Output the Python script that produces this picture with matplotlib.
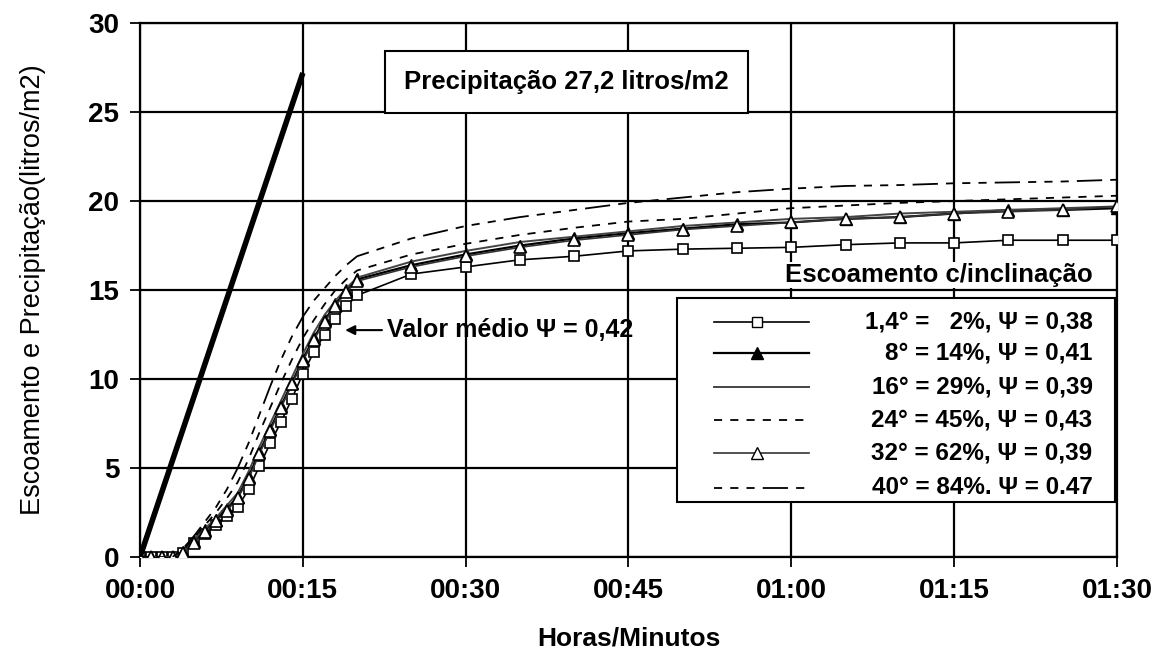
import matplotlib
matplotlib.use("Agg")
import matplotlib.pyplot as plt
from matplotlib.lines import Line2D
from matplotlib.patches import Rectangle

plt.rcParams['font.family'] = ['Liberation Sans', 'DejaVu Sans']

# Minutes since start: every minute up to 20, then every 5 minutes
minutes = list(range(0, 21)) + list(range(25, 91, 5))

# Rainfall (straight line during the first 15 minutes)
rain_minutes = [0, 15]
rain_values = [0, 27.2]

# Runoff for each slope (litros/m2)
runoff_1_4 = [0, 0, 0, 0, 0.2, 0.8, 1.3, 1.8, 2.3, 2.8, 3.8, 5.1, 6.4, 7.6, 8.9, 10.3,
              11.5, 12.5, 13.4, 14.1, 14.7,
              15.9, 16.3, 16.7, 16.9, 17.2, 17.3, 17.35, 17.4, 17.55, 17.65, 17.65, 17.8, 17.8, 17.8]
runoff_8 = [0, 0, 0, 0, 0.3, 0.9, 1.5, 2.1, 2.7, 3.4, 4.5, 5.9, 7.2, 8.5, 9.8, 11.1,
            12.3, 13.3, 14.2, 15.0, 15.6,
            16.4, 17.0, 17.5, 17.9, 18.2, 18.45, 18.7, 18.8, 19.0, 19.1, 19.3, 19.5, 19.5, 19.6]
runoff_16 = [0, 0, 0, 0, 0.3, 1.0, 1.6, 2.2, 2.9, 3.6, 4.8, 6.2, 7.5, 8.8, 10.1, 11.4,
             12.6, 13.6, 14.4, 15.1, 15.7,
             16.6, 17.2, 17.7, 18.0, 18.3, 18.6, 18.8, 19.0, 19.1, 19.3, 19.4, 19.5, 19.6, 19.7]
runoff_24 = [0, 0, 0, 0, 0.4, 1.1, 1.8, 2.5, 3.3, 4.2, 5.5, 7.0, 8.4, 9.8, 11.1, 12.3,
             13.3, 14.2, 15.0, 15.6, 16.1,
             17.0, 17.6, 18.1, 18.5, 18.85, 19.0, 19.3, 19.6, 19.75, 19.9, 20.0, 20.1, 20.2, 20.3]
runoff_32 = [0, 0, 0, 0, 0.2, 0.8, 1.4, 2.0, 2.6, 3.3, 4.4, 5.8, 7.1, 8.4, 9.7, 11.0,
             12.2, 13.2, 14.1, 14.9, 15.5,
             16.3, 16.9, 17.4, 17.8, 18.1, 18.4, 18.6, 18.8, 19.0, 19.1, 19.3, 19.4, 19.5, 19.7]
runoff_40 = [0, 0, 0, 0, 0.5, 1.2, 2.0, 2.8, 3.8, 5.0, 6.4, 8.0, 9.6, 11.1, 12.4, 13.5,
             14.4, 15.1, 15.8, 16.4, 16.9,
             17.9, 18.6, 19.1, 19.5, 19.9, 20.2, 20.5, 20.7, 20.85, 20.9, 21.0, 21.05, 21.1, 21.2]

labels = ["1,4° =   2%, Ψ = 0,38",
          "8° = 14%, Ψ = 0,41",
          "16° = 29%, Ψ = 0,39",
          "24° = 45%, Ψ = 0,43",
          "32° = 62%, Ψ = 0,39",
          "40° = 84%. Ψ = 0.47"]

tick_minutes = [0, 15, 30, 45, 60, 75, 90]
tick_labels = ["00:00", "00:15", "00:30", "00:45", "01:00", "01:15", "01:30"]

short_dash = (0, (4.5, 4.5))
long_dash = (0, (4.5, 4.5, 4.5, 4.5, 4.5, 4.5, 14, 4.5))

styles = [
    dict(color='black', lw=1.2, ls='-', marker='s', ms=7, mfc='white', mec='black', mew=1.2),
    dict(color='black', lw=1.6, ls='-', marker='^', ms=9, mfc='black', mec='black'),
    dict(color='#444444', lw=1.4, ls='-'),
    dict(color='black', lw=1.3, ls=short_dash),
    dict(color='#333333', lw=1.2, ls='-', marker='^', ms=8, mfc='white', mec='black', mew=1.2),
    dict(color='black', lw=1.3, ls=long_dash),
]
series = [runoff_1_4, runoff_8, runoff_16, runoff_24, runoff_32, runoff_40]

fig = plt.figure(figsize=(11.57, 6.6), dpi=100)
ax = fig.add_axes([0.121, 0.156, 0.8444, 0.809])

ax.plot(rain_minutes, rain_values, color='black', lw=4, solid_capstyle='butt', zorder=4)
for values, st in zip(series, styles):
    ax.plot(minutes, values, zorder=3, **st)

ax.set_xlim(0, 90)
ax.set_ylim(0, 30)
ax.set_xticks(tick_minutes)
ax.set_xticklabels(tick_labels)
ax.set_yticks(range(0, 31, 5))
ax.grid(True, color='black', lw=1.6)
ax.set_axisbelow(True)
for sp in ax.spines.values():
    sp.set_linewidth(1.6)
ax.tick_params(axis='both', direction='out', length=7, width=1.3, labelsize=20, pad=8)
for t in ax.get_xticklabels() + ax.get_yticklabels():
    t.set_fontweight('bold')

ax.set_xlabel("Horas/Minutos", fontsize=19, fontweight='bold', labelpad=16)
ax.set_ylabel("Escoamento e Precipitação(litros/m2)", fontsize=19.5, labelpad=30)

# rainfall note
ax.text(39.3, 26.7, "Precipitação 27,2 litros/m2", fontsize=18.5, fontweight='bold',
        ha='center', va='center', zorder=6,
        bbox=dict(boxstyle='square,pad=0.75', fc='white', ec='black', lw=1.5))

# mean coefficient note
ax.annotate("Valor médio Ψ = 0,42", xy=(18.9, 12.75), xytext=(22.8, 12.75),
            fontsize=18, fontweight='bold', ha='left', va='center', zorder=6,
            arrowprops=dict(arrowstyle='-|>', color='black', lw=1.5,
                            shrinkA=2, shrinkB=0, mutation_scale=14))

# legend title and legend box
ax.text(0.975, 0.528, "Escoamento c/inclinação", transform=ax.transAxes,
        fontsize=18.5, fontweight='bold', ha='right', va='center', zorder=6,
        bbox=dict(fc='white', ec='none', pad=1))
ax.add_patch(Rectangle((0.5496, 0.103), 0.4484, 0.382, transform=ax.transAxes,
                       fc='white', ec='black', lw=1.5, zorder=5))
row_y = [0.44, 0.382, 0.318, 0.256, 0.194, 0.13]
for lab, st, yy in zip(labels, styles, row_y):
    ax.add_line(Line2D([0.5875, 0.6847], [yy, yy], transform=ax.transAxes,
                       zorder=6, markevery=[], **st))
    if 'marker' in st:
        ax.add_line(Line2D([0.6315], [yy], transform=ax.transAxes, zorder=7,
                           ls='none', marker=st['marker'], ms=st['ms'],
                           mfc=st['mfc'], mec=st['mec']))
    ax.text(0.975, yy, lab, transform=ax.transAxes, fontsize=17.5,
            fontweight='bold', ha='right', va='center', zorder=7)

fig.savefig("out.png", dpi=100, facecolor='white')
